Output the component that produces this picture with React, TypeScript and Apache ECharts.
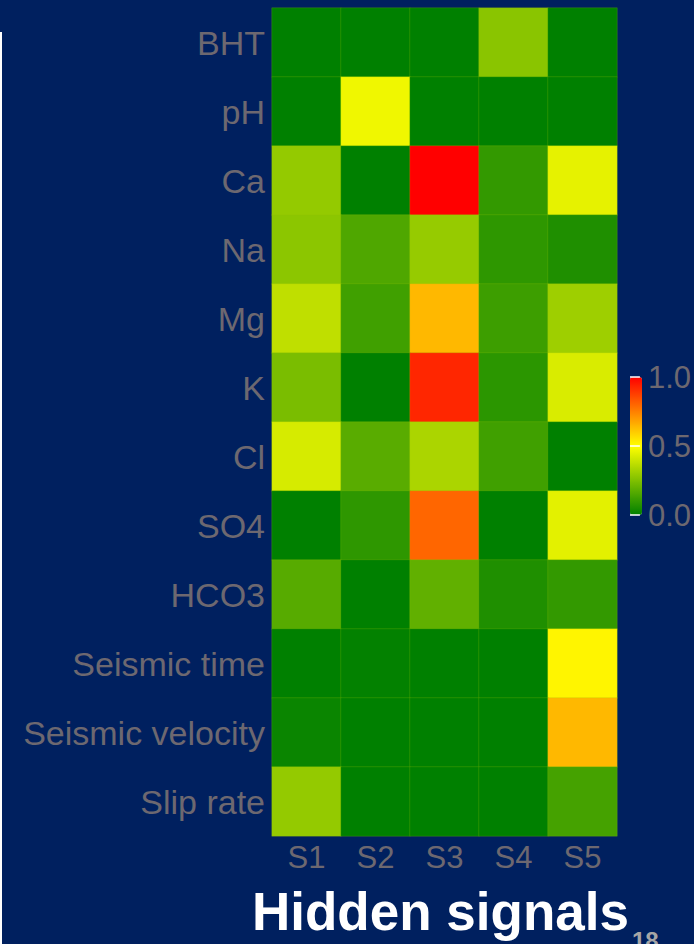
import React, { useEffect, useRef } from "react";
import * as echarts from "echarts";

const variables = [
  "BHT", "pH", "Ca", "Na", "Mg", "K", "Cl", "SO4", "HCO3",
  "Seismic time", "Seismic velocity", "Slip rate",
];
const signals = ["S1", "S2", "S3", "S4", "S5"];

// one row per variable, one value per signal (S1..S5)
const valBHT = [0.0, 0.0, 0.0, 0.27, 0.0];
const valPH = [0.0, 0.47, 0.0, 0.0, 0.0];
const valCa = [0.29, 0.0, 1.0, 0.1, 0.45];
const valNa = [0.275, 0.155, 0.295, 0.09, 0.06];
const valMg = [0.375, 0.125, 0.64, 0.12, 0.31];
const valK = [0.24, 0.0, 0.925, 0.085, 0.425];
const valCl = [0.42, 0.175, 0.335, 0.125, 0.0];
const valSO4 = [0.0, 0.09, 0.8, 0.0, 0.445];
const valHCO3 = [0.17, 0.0, 0.19, 0.06, 0.1];
const valSeisTime = [0.0, 0.005, 0.0, 0.0, 0.52];
const valSeisVel = [0.02, 0.0, 0.0, 0.0, 0.64];
const valSlip = [0.29, 0.0, 0.0, 0.0, 0.135];

const rows = [
  valBHT, valPH, valCa, valNa, valMg, valK, valCl, valSO4, valHCO3,
  valSeisTime, valSeisVel, valSlip,
];

const scaleTicks = [0, 0.5, 1];

export default function App() {
  const ref = useRef<HTMLDivElement>(null);

  useEffect(() => {
    if (!ref.current) return;
    const chart = echarts.init(ref.current, null, { renderer: "svg" });
    const data: [number, number, number][] = [];
    rows.forEach((r, yi) => r.forEach((v, xi) => data.push([xi, yi, v])));
    const labelColor = "#6d6870";
    chart.setOption({
      animation: false,
      backgroundColor: "#00205f",
      grid: [
        { left: 272, top: 8, width: 345, height: 828, containLabel: false },
        { left: 630, top: 377, width: 12, height: 138, containLabel: false },
      ],
      xAxis: [
        {
          type: "category",
          data: signals,
          gridIndex: 0,
          axisLine: { show: false },
          axisTick: { show: false },
          axisLabel: {
            color: labelColor,
            fontSize: 31,
            fontFamily: "Liberation Sans, Arial, sans-serif",
            margin: 6,
          },
        },
        {
          type: "value",
          gridIndex: 1,
          show: false,
        },
      ],
      yAxis: [
        {
          type: "category",
          data: variables,
          inverse: true,
          gridIndex: 0,
          axisLine: { show: false },
          axisTick: { show: false },
          axisLabel: {
            color: labelColor,
            fontSize: 34,
            fontFamily: "Liberation Sans, Arial, sans-serif",
            margin: 7,
            padding: [0, 0, 8, 0],
          },
        },
        {
          type: "value",
          gridIndex: 1,
          min: 0,
          max: 1,
          interval: 0.5,
          position: "right",
          z: 10,
          axisLine: { show: false },
          axisTick: { show: false },
          splitLine: { show: true, lineStyle: { color: "#ffffff", width: 1.5 } },
          axisLabel: {
            color: labelColor,
            fontSize: 31,
            fontFamily: "Liberation Sans, Arial, sans-serif",
            margin: 8,
            formatter: (v: number) =>
              scaleTicks.includes(v) ? v.toFixed(1) : "",
          },
        },
      ],
      visualMap: {
        type: "continuous",
        min: 0,
        max: 1,
        seriesIndex: 0,
        left: 630,
        top: 377,
        itemWidth: 12,
        itemHeight: 138,
        padding: 0,
        calculable: false,
        text: ["", ""],
        showLabel: false,
        inRange: { color: ["#008000", "#ffff00", "#ff0000"] },
      },
      series: [
        {
          type: "heatmap",
          xAxisIndex: 0,
          yAxisIndex: 0,
          data,
          itemStyle: { borderWidth: 0.6, borderColor: "rgba(160,200,0,0.35)" },
        },
      ],
      graphic: [
        {
          type: "rect",
          shape: { x: 0, y: 32, width: 2, height: 912 },
          style: { fill: "#ffffff" },
        },
        {
          type: "text",
          left: 252,
          top: 885,
          style: {
            text: "Hidden signals",
            fill: "#ffffff",
            font: "bold 53px Liberation Sans, Arial, sans-serif",
          },
        },
        {
          type: "text",
          left: 632,
          top: 928,
          style: {
            text: "18",
            fill: "#a6a6a6",
            font: "bold 24px Liberation Sans, Arial, sans-serif",
          },
        },
      ],
    });
    return () => chart.dispose();
  }, []);

  return (
    <div
      ref={ref}
      style={{ position: "fixed", left: 0, top: 0, width: 694, height: 944 }}
    />
  );
}
